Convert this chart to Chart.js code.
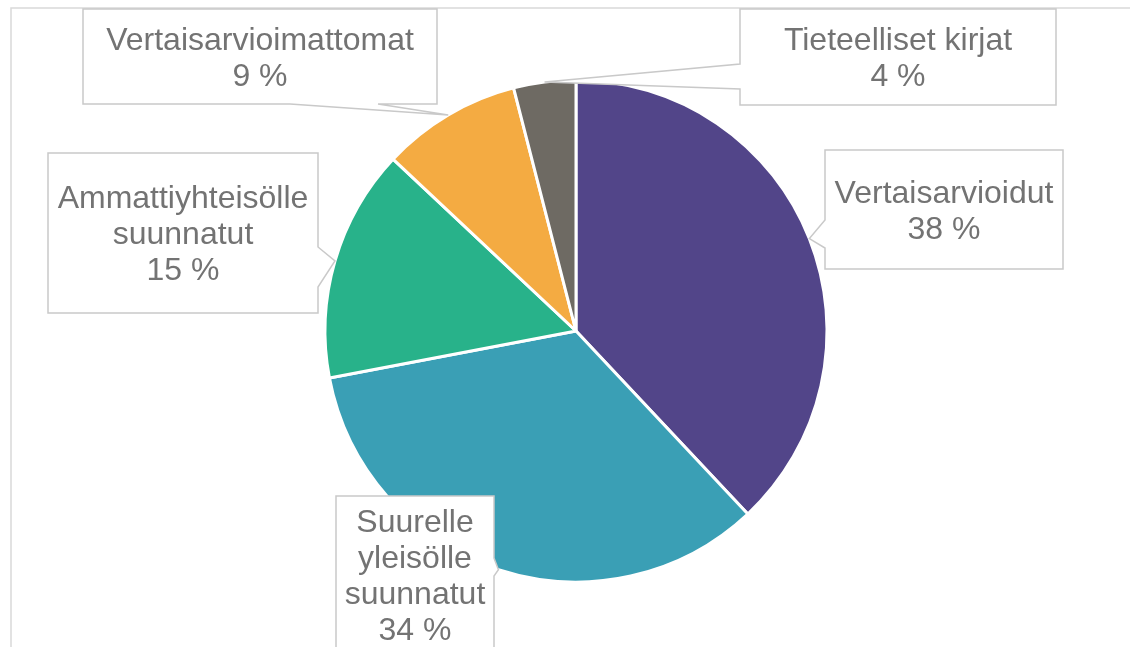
<!DOCTYPE html>
<html>
<head>
<meta charset="utf-8">
<title>Julkaisut</title>
<script src="https://cdn.jsdelivr.net/npm/chart.js@4/dist/chart.umd.min.js"></script>
<style>
  html, body { margin: 0; padding: 0; background: #fff; overflow: hidden; }
  #wrap { width: 1130px; height: 647px; position: relative; }
</style>
</head>
<body>
<div id="wrap"><canvas id="pie" width="1130" height="647"></canvas></div>
<script>
// Data
const categories = ['Vertaisarvioidut', 'Suurelle yleisölle suunnatut', 'Ammattiyhteisölle suunnatut', 'Vertaisarvioimattomat', 'Tieteelliset kirjat'];
const shares = [38, 34, 15, 9, 4];
const sliceColors = ['#524589', '#3a9fb5', '#28b28a', '#f4ab42', '#6e6a63'];

// Label text split into lines like in the original
const labelLines = [
    ['Vertaisarvioidut'],
    ['Suurelle', 'yleisölle', 'suunnatut'],
    ['Ammattiyhteisölle', 'suunnatut'],
    ['Vertaisarvioimattomat'],
    ['Tieteelliset kirjat']
];

// Callout boxes: position, size and which side the pointer leaves from
const boxes = [
    { x: 825, y: 150, w: 238, h: 119, side: 'left', from: 220, to: 248 },
    { x: 336, y: 496, w: 158, h: 158, side: 'right', from: 558, to: 576 },
    { x: 48, y: 153, w: 270, h: 160, side: 'right', from: 247, to: 287 },
    { x: 83, y: 9, w: 354, h: 95, side: 'bottom', from: 290, to: 378 },
    { x: 740, y: 9, w: 316, h: 96, side: 'left', from: 64, to: 89 }
];

const FONT_SIZE = 32;
const LINE_H = 36;
const TEXT_COLOR = '#737373';

// Draw box outline with the wedge pointing to the slice
function boxPath(ctx, b, tip) {
    const r = b.x + b.w, bt = b.y + b.h;
    ctx.beginPath();
    ctx.moveTo(b.x, b.y);
    ctx.lineTo(r, b.y);
    if (b.side === 'right') {
        ctx.lineTo(r, b.from);
        ctx.lineTo(tip.x, tip.y);
        ctx.lineTo(r, b.to);
    }
    ctx.lineTo(r, bt);
    if (b.side === 'bottom') {
        ctx.lineTo(b.to, bt);
        ctx.lineTo(tip.x, tip.y);
        ctx.lineTo(b.from, bt);
    }
    ctx.lineTo(b.x, bt);
    if (b.side === 'left') {
        ctx.lineTo(b.x, b.to);
        ctx.lineTo(tip.x, tip.y);
        ctx.lineTo(b.x, b.from);
    }
    ctx.closePath();
}

const calloutPlugin = {
    id: 'callouts',
    beforeDraw(chart) {
        // light outer frame of the chart object
        const ctx = chart.ctx;
        ctx.save();
        ctx.strokeStyle = '#d9d9d9';
        ctx.lineWidth = 1.5;
        ctx.strokeRect(11, 8, 1200, 700);
        ctx.restore();
    },
    afterDatasetsDraw(chart) {
        const ctx = chart.ctx;
        const arcs = chart.getDatasetMeta(0).data;
        ctx.save();
        arcs.forEach((arc, i) => {
            const b = boxes[i];
            const mid = (arc.startAngle + arc.endAngle) / 2;
            const tip = {
                x: arc.x + Math.cos(mid) * arc.outerRadius,
                y: arc.y + Math.sin(mid) * arc.outerRadius
            };
            boxPath(ctx, b, tip);
            ctx.fillStyle = '#fff';
            ctx.fill();
            ctx.strokeStyle = '#c9c9c9';
            ctx.lineWidth = 1.5;
            ctx.stroke();

            const lines = labelLines[i].concat([shares[i] + ' %']);
            ctx.fillStyle = TEXT_COLOR;
            ctx.font = FONT_SIZE + 'px "Liberation Sans", Arial, sans-serif';
            ctx.textAlign = 'center';
            ctx.textBaseline = 'alphabetic';
            const cx = b.x + b.w / 2;
            const cy = b.y + b.h / 2;
            const capH = FONT_SIZE * 0.716;
            const first = cy - (lines.length - 1) * LINE_H / 2 + capH / 2;
            lines.forEach((t, k) => ctx.fillText(t, cx, first + k * LINE_H));
        });
        ctx.restore();
    }
};

const ctx = document.getElementById('pie').getContext('2d');
new Chart(ctx, {
    type: 'pie',
    data: {
        labels: categories,
        datasets: [{
            data: shares,
            backgroundColor: sliceColors,
            borderColor: '#ffffff',
            borderWidth: 3
        }]
    },
    options: {
        responsive: false,
        animation: false,
        radius: 251,
        layout: { padding: { left: 22, right: 0, top: 15, bottom: 0 } },
        plugins: {
            legend: { display: false },
            tooltip: { enabled: false }
        }
    },
    plugins: [calloutPlugin]
});
</script>
</body>
</html>
